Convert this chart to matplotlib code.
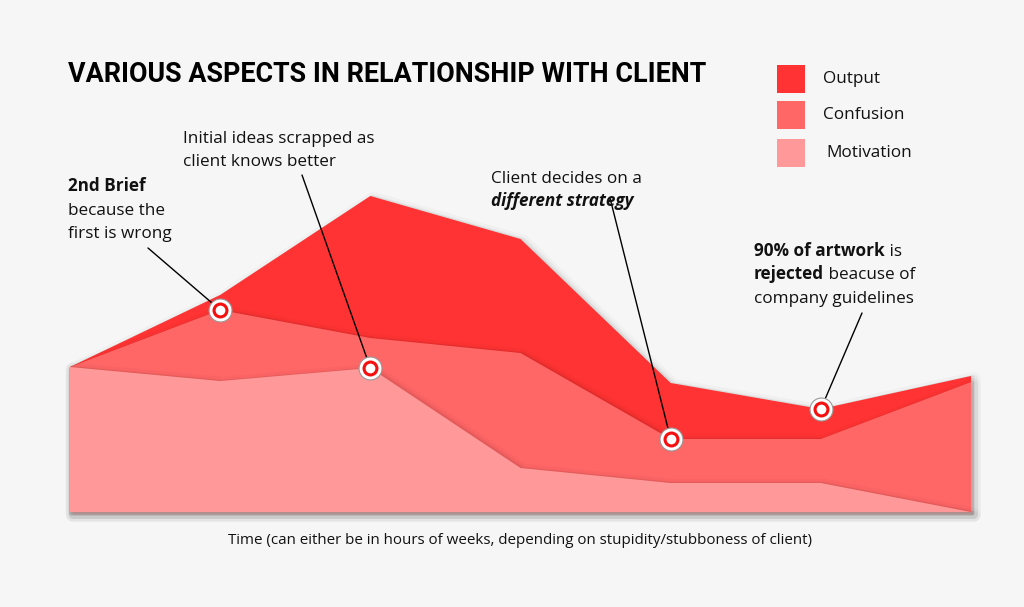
import matplotlib
matplotlib.use("Agg")
import matplotlib.pyplot as plt
import matplotlib.patheffects as pe
import numpy as np

# ---- data ----
time_steps = [0, 1, 2, 3, 4, 5, 6]
output_vals = [145, 217, 316, 273, 129, 103, 136]
confusion_vals = [145, 202, 174, 159, 73, 73, 130]
motivation_vals = [145, 131, 144, 44, 29, 29, 0]
series_names = ["Output", "Confusion", "Motivation"]
series_colors = ["#ff3333", "#ff6666", "#ff9898"]

title = "VARIOUS ASPECTS IN RELATIONSHIP WITH CLIENT"
xlabel = "Time (can either be in hours of weeks, depending on stupidity/stubboness of client)"

W, H = 1024, 607
BG = "#f6f6f6"
FONT = ["Open Sans", "DejaVu Sans"]
FS = 12.3

fig = plt.figure(figsize=(W / 100, H / 100), dpi=100, facecolor=BG)

def fx(px):
    return px / W

def fy(py):
    return 1 - py / H

# chart axes: x from 70 to 971 px, baseline at 512 px, top at 112 px
ax = fig.add_axes([fx(70), fy(512), fx(971) - fx(70), fy(112) - fy(512)])
ax.set_xlim(time_steps[0], time_steps[-1])
ax.set_ylim(0, 400)
ax.axis("off")
ax.patch.set_alpha(0)

shadow = [
    pe.Stroke(linewidth=10, foreground="black", alpha=0.025, offset=(2, -2), joinstyle="round"),
    pe.Stroke(linewidth=6, foreground="black", alpha=0.035, offset=(2, -2), joinstyle="round"),
    pe.Stroke(linewidth=3, foreground="black", alpha=0.06, offset=(1, -1), joinstyle="round"),
    pe.Normal(),
]

for vals, col, z in zip([output_vals, confusion_vals, motivation_vals], series_colors, [1, 2, 3]):
    xs = list(time_steps) + [time_steps[-1], time_steps[0]]
    ys = list(vals) + [0, 0]
    poly = ax.fill(xs, ys, color=col, lw=0, zorder=z, clip_on=False)[0]
    poly.set_path_effects(shadow)

# annotation markers: (time index, series)
marker_pts = [(1, confusion_vals), (2, motivation_vals), (4, confusion_vals), (5, output_vals)]
# line start points (pixel coords in figure)
line_starts = [(148, 248), (302, 175), (610, 198), (862, 313)]

for (i, ser), (sx, sy) in zip(marker_pts, line_starts):
    ax.annotate("", xy=(time_steps[i], ser[i]), xycoords="data",
                xytext=(fx(sx), fy(sy)), textcoords="figure fraction",
                arrowprops=dict(arrowstyle="-", color="black", lw=1.0,
                                shrinkA=0, shrinkB=0), zorder=5, annotation_clip=False)

for i, ser in marker_pts:
    x, y = time_steps[i], ser[i]
    ax.plot([x], [y], "o", ms=16.5, mfc="white", mec="#999999", mew=0.8, zorder=6, clip_on=False)
    ax.plot([x], [y], "o", ms=11.5, mfc="#f51010", mec="none", zorder=7, clip_on=False)
    ax.plot([x], [y], "o", ms=7.0, mfc="white", mec="none", zorder=8, clip_on=False)

# title
fig.text(fx(68), fy(74), title, fontsize=19.4, fontweight="bold",
         family=["Roboto", "DejaVu Sans"], va="center", ha="left", color="#000000")

# legend
leg_y = [79, 115, 153]
for name, col, yy, lx in zip(series_names, series_colors, leg_y, [823, 823, 826]):
    rect = plt.Rectangle((fx(777), fy(yy + 14)), fx(28), 28 / H, transform=fig.transFigure,
                         facecolor=col, edgecolor="none")
    fig.add_artist(rect)
    fig.text(fx(lx), fy(yy), name, fontsize=FS, family=FONT, va="center", ha="left", color="#111111")

# annotation texts, possibly with mixed styles per line
renderer = fig.canvas.get_renderer()

def mixed_line(x_px, y_px, parts, size=FS):
    x = fx(x_px)
    for txt, weight, style in parts:
        t = fig.text(x, fy(y_px), txt, fontsize=size, family=FONT, fontweight=weight,
                     fontstyle=style, va="baseline", ha="left", color="#111111")
        bb = t.get_window_extent(renderer=renderer)
        x = fig.transFigure.inverted().transform((bb.x1, bb.y0))[0]

N, B = "normal", "bold"
mixed_line(68, 191, [("2nd Brief", B, "normal")])
mixed_line(68, 215, [("because the", N, "normal")])
mixed_line(68, 238, [("first is wrong", N, "normal")])

mixed_line(183, 143, [("Initial ideas scrapped as", N, "normal")])
mixed_line(183, 166, [("client knows better", N, "normal")])

mixed_line(491, 183, [("Client decides on a", N, "normal")])
mixed_line(491, 206, [("different strategy", B, "italic")])

mixed_line(754, 256, [("90% of artwork", B, "normal"), (" is", N, "normal")])
mixed_line(754, 279, [("rejected", B, "normal"), (" beacuse of", N, "normal")])
mixed_line(754, 303, [("company guidelines", N, "normal")])

fig.text(fx(520), fy(540), xlabel, fontsize=10.9, family=FONT, va="center", ha="center", color="#111111")

fig.savefig("out.png", dpi=100, facecolor=BG)
